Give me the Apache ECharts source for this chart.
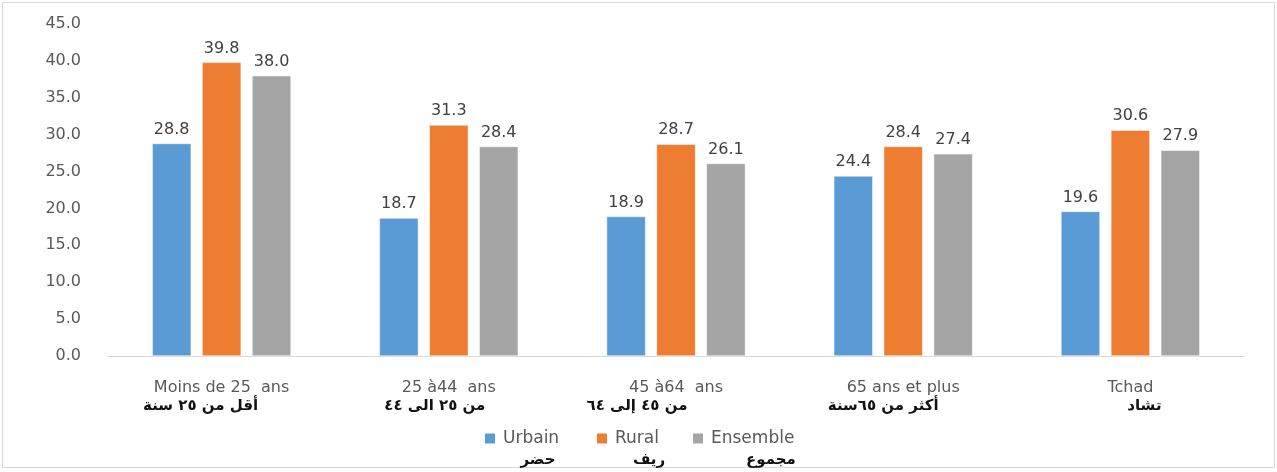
<!DOCTYPE html>
<html>
<head>
<meta charset="utf-8">
<script src="https://cdn.jsdelivr.net/npm/echarts@6/dist/echarts.min.js"></script>
<style>
html,body{margin:0;padding:0;background:#fff;}
#c{width:1277px;height:472px;}
</style>
</head>
<body>
<div id="c"></div>
<script>
const categoriesFr = ['Moins de 25  ans', '25 à44  ans', '45 à64  ans', '65 ans et plus', 'Tchad'];
const categoriesAr = ['أقل من ٢٥ سنة', 'من ٢٥ الى ٤٤', 'من ٤٥ إلى ٦٤', 'أكثر من ٦٥سنة', 'تشاد'];
const seriesNames = ['Urbain', 'Rural', 'Ensemble'];
const seriesNamesAr = ['حضر', 'ريف', 'مجموع'];
const urbain = [28.8, 18.7, 18.9, 24.4, 19.6];
const rural = [39.8, 31.3, 28.7, 28.4, 30.6];
const ensemble = [38.0, 28.4, 26.1, 27.4, 27.9];
const yTicks = [0, 5, 10, 15, 20, 25, 30, 35, 40, 45];

const colors = ['#5B9BD5', '#ED7D31', '#A5A5A5'];
const FONT = 'DejaVu Sans';

// layout-only helpers (not data)
const arShift = [-21, -14, -39, -20, 14];
const legendLeft = [483, 595, 691];
const legendArX = [538, 649, 771];

const chart = echarts.init(document.getElementById('c'));
const values = [urbain, rural, ensemble];

const rich = {
  fr: { color: '#595959', fontSize: 16, fontFamily: FONT, lineHeight: 19 }
};
arShift.forEach(function (s, i) {
  rich['ar' + i] = {
    color: '#111', fontSize: 15, fontWeight: 'bold', fontFamily: FONT, lineHeight: 19,
    padding: s < 0 ? [0, -2 * s, 0, 0] : [0, 0, 0, 2 * s]
  };
});

const option = {
  backgroundColor: '#fff',
  animation: false,
  textStyle: { fontFamily: FONT },
  grid: { left: 108, right: 33, top: 24, bottom: 116, containLabel: false },
  legend: seriesNames.map(function (n, k) {
    return {
      data: [n],
      left: legendLeft[k],
      top: 430,
      padding: 0,
      itemWidth: 12,
      itemHeight: 12,
      itemGap: 7,
      icon: 'rect',
      textStyle: { color: '#595959', fontSize: 17, fontFamily: FONT, padding: [0, 0, 0, 2] }
    };
  }),
  xAxis: {
    type: 'category',
    data: categoriesFr,
    axisTick: { show: false },
    axisLine: { lineStyle: { color: '#D9D9D9', width: 1 } },
    axisLabel: {
      margin: 22,
      interval: 0,
      formatter: function (v, i) {
        return '{fr|' + v + '}\n{ar' + i + '|' + categoriesAr[i] + '}';
      },
      rich: rich
    }
  },
  yAxis: {
    type: 'value',
    min: yTicks[0],
    max: yTicks[yTicks.length - 1],
    interval: 5,
    splitLine: { show: false },
    axisLine: { show: false },
    axisTick: { show: false },
    axisLabel: {
      margin: 27,
      color: '#595959',
      fontSize: 16,
      fontFamily: FONT,
      formatter: function (v) { return v.toFixed(1); }
    }
  },
  series: seriesNames.map(function (name, k) {
    return {
      name: name,
      type: 'bar',
      data: values[k],
      barWidth: 39,
      barGap: '28%',
      barCategoryGap: '39%',
      itemStyle: { color: colors[k], borderColor: '#fff', borderWidth: 0.5 },
      label: {
        show: true,
        position: 'top',
        distance: 6,
        color: '#404040',
        fontSize: 16,
        fontFamily: FONT,
        formatter: function (p) { return p.value.toFixed(1); }
      }
    };
  }),
  graphic: [
    {
      type: 'rect',
      shape: { x: 2.5, y: 2.5, width: 1272, height: 465 },
      style: { fill: 'none', stroke: '#D9D9D9', lineWidth: 1 },
      silent: true
    }
  ].concat(seriesNamesAr.map(function (t, k) {
    return {
      type: 'text',
      x: legendArX[k],
      y: 460,
      style: { text: t, fill: '#111', font: 'bold 15px "DejaVu Sans"', align: 'center', verticalAlign: 'middle' }
    };
  }))
};
chart.setOption(option);
</script>
</body>
</html>
